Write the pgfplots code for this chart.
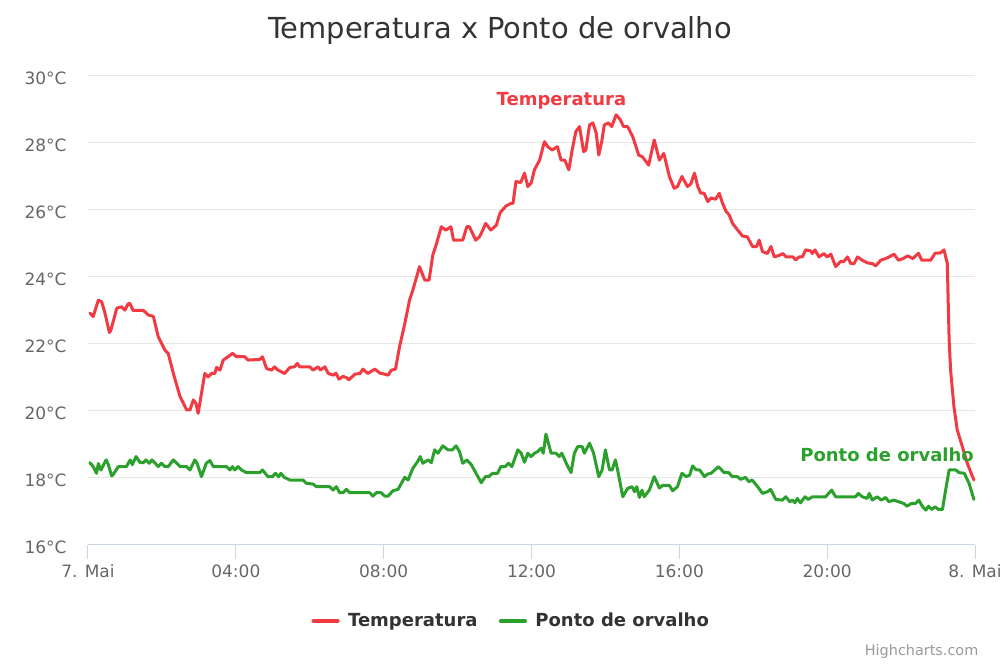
\documentclass[border=0pt]{standalone}
\usepackage{pgfplots}
\pgfplotsset{compat=1.18}
\usepackage{fontspec}
\setmainfont{DejaVu Sans}
\definecolor{tempc}{HTML}{F23A42}
\definecolor{dewc}{HTML}{2CA02C}
\definecolor{gridc}{HTML}{E6E6E6}
\definecolor{axisc}{HTML}{CCD6EB}
\definecolor{labc}{HTML}{666666}
\definecolor{titc}{HTML}{333333}
\definecolor{credc}{HTML}{999999}

\begin{document}
\begin{tikzpicture}
\useasboundingbox (-66pt,-91.5pt) rectangle (684pt,408.75pt);
\begin{axis}[
    at={(0,0)}, anchor=south west,
    scale only axis, width=665.25pt, height=351.75pt,
    xmin=0, xmax=24, ymin=16, ymax=30,
    axis x line*=bottom, axis y line*=left,
    x axis line style={draw=axisc, line width=0.75pt},
    y axis line style={draw=none},
    xtick={0,4,8,12,16,20,24},
    xticklabels={7. Mai,04:00,08:00,12:00,16:00,20:00,8. Mai},
    ytick={16,18,...,30},
    yticklabels={16°C,18°C,20°C,22°C,24°C,26°C,28°C,30°C},
    xtick style={draw=axisc, line width=0.75pt},
    ytick style={draw=none},
    tick align=outside,
    x tick label style={font=\fontsize{12.75pt}{14pt}\selectfont, text=labc, yshift=-1pt},
    y tick label style={font=\fontsize{12.75pt}{14pt}\selectfont, text=labc, anchor=east, xshift=-2pt, yshift=-1.5pt},
    major tick length=10.5pt,
    ymajorgrids, grid style={draw=gridc, line width=0.75pt},
    clip=false,
    legend style={at={(0.4775,-0.162)}, anchor=center, draw=none, fill=none,
        font=\fontsize{13.5pt}{15pt}\selectfont\bfseries, text=titc,
        legend columns=2,
        /tikz/every even column/.append style={column sep=14pt}},
    legend image code/.code={\draw[#1, line width=2.6pt] (0pt,0pt) -- (18.5pt,0pt); \path (23pt,0pt);},
    every axis plot/.append style={line width=2.25pt, line join=round, line cap=round},
]
\addplot[tempc] coordinates {
(0.05,22.92) (0.14,22.82) (0.28,23.31) (0.37,23.26) (0.46,22.92) (0.58,22.34)
(0.62,22.42) (0.78,23.07) (0.91,23.11) (1.00,23.01) (1.09,23.21) (1.14,23.20)
(1.22,23.00) (1.50,23.00) (1.63,22.87) (1.77,22.82) (1.90,22.22) (2.08,21.82)
(2.17,21.72) (2.31,21.12) (2.49,20.43) (2.67,20.03) (2.76,20.03) (2.85,20.33)
(2.92,20.23) (2.98,19.93) (3.16,21.12) (3.25,21.02) (3.34,21.12) (3.43,21.12)
(3.48,21.30) (3.57,21.22) (3.66,21.52) (3.79,21.62) (3.91,21.72) (4.02,21.62)
(4.24,21.62) (4.33,21.52) (4.65,21.54) (4.72,21.62) (4.83,21.27) (4.97,21.22)
(5.05,21.32) (5.14,21.22) (5.32,21.12) (5.46,21.30) (5.59,21.32) (5.66,21.42)
(5.73,21.32) (6.00,21.32) (6.09,21.22) (6.22,21.32) (6.29,21.22) (6.41,21.32)
(6.50,21.12) (6.64,21.07) (6.71,21.13) (6.79,20.95) (6.90,21.03) (6.99,21.00)
(7.06,20.93) (7.22,21.10) (7.36,21.12) (7.44,21.25) (7.57,21.12) (7.76,21.25)
(7.90,21.13) (8.03,21.10) (8.12,21.07) (8.21,21.22) (8.32,21.25) (8.43,21.92)
(8.57,22.60) (8.70,23.31) (8.79,23.61) (8.97,24.31) (9.11,23.91) (9.23,23.91)
(9.33,24.66) (9.42,24.96) (9.56,25.50) (9.68,25.40) (9.82,25.50) (9.89,25.10)
(10.14,25.10) (10.25,25.50) (10.32,25.50) (10.49,25.10) (10.59,25.20) (10.64,25.30)
(10.76,25.60) (10.90,25.40) (11.05,25.55) (11.15,25.92) (11.31,26.12) (11.45,26.20)
(11.50,26.20) (11.58,26.85) (11.71,26.82) (11.81,27.10) (11.90,26.70) (11.99,26.80)
(12.08,27.20) (12.22,27.49) (12.35,28.04) (12.44,27.89) (12.56,27.79) (12.70,27.89)
(12.80,27.49) (12.90,27.49) (13.01,27.20) (13.10,27.79) (13.20,28.34) (13.30,28.49)
(13.41,27.74) (13.47,27.79) (13.57,28.54) (13.66,28.60) (13.75,28.30) (13.82,27.64)
(13.90,28.04) (13.97,28.54) (14.08,28.60) (14.17,28.49) (14.29,28.84) (14.40,28.70)
(14.49,28.49) (14.60,28.49) (14.74,28.19) (14.90,27.64) (15.00,27.59) (15.17,27.34)
(15.32,28.09) (15.46,27.49) (15.58,27.69) (15.73,27.00) (15.86,26.65) (15.95,26.70)
(16.07,27.00) (16.22,26.70) (16.31,26.78) (16.41,27.10) (16.50,26.70) (16.58,26.50)
(16.67,26.50) (16.77,26.25) (16.86,26.36) (16.98,26.32) (17.08,26.50) (17.17,26.20)
(17.26,25.97) (17.35,25.85) (17.44,25.60) (17.58,25.40) (17.71,25.22) (17.84,25.20)
(17.98,24.91) (18.09,24.91) (18.16,25.10) (18.25,24.76) (18.38,24.70) (18.48,24.91)
(18.57,24.60) (18.71,24.65) (18.80,24.70) (18.89,24.60) (19.07,24.60) (19.15,24.51)
(19.24,24.60) (19.33,24.60) (19.42,24.81) (19.55,24.78) (19.60,24.70) (19.67,24.81)
(19.78,24.60) (19.91,24.70) (20.00,24.60) (20.10,24.68) (20.23,24.31) (20.36,24.46)
(20.45,24.46) (20.55,24.60) (20.64,24.40) (20.73,24.40) (20.82,24.60) (20.95,24.50)
(21.09,24.42) (21.23,24.40) (21.31,24.33) (21.45,24.50) (21.58,24.55) (21.68,24.60)
(21.81,24.68) (21.93,24.50) (22.05,24.55) (22.18,24.63) (22.32,24.55) (22.47,24.71)
(22.56,24.50) (22.80,24.50) (22.92,24.71) (23.07,24.72) (23.16,24.81) (23.25,24.41)
(23.30,22.12) (23.34,21.22) (23.43,20.13) (23.52,19.43) (23.66,18.93) (23.79,18.44)
(23.97,17.94)
};
\addlegendentry{Temperatura}
\addplot[dewc] coordinates {
(0.05,18.46) (0.14,18.34) (0.23,18.14) (0.28,18.43) (0.35,18.24) (0.49,18.54)
(0.55,18.40) (0.64,18.06) (0.68,18.10) (0.82,18.34) (1.04,18.34) (1.14,18.54)
(1.20,18.40) (1.30,18.64) (1.41,18.46) (1.50,18.46) (1.57,18.54) (1.66,18.44)
(1.73,18.54) (1.82,18.44) (1.90,18.34) (1.99,18.44) (2.08,18.34) (2.17,18.34)
(2.31,18.54) (2.49,18.34) (2.67,18.34) (2.76,18.24) (2.89,18.54) (2.95,18.44)
(3.07,18.04) (3.20,18.44) (3.30,18.52) (3.39,18.34) (3.75,18.34) (3.84,18.24)
(3.91,18.34) (3.97,18.24) (4.06,18.34) (4.15,18.24) (4.29,18.16) (4.65,18.16)
(4.72,18.24) (4.87,18.04) (4.99,18.04) (5.07,18.14) (5.16,18.04) (5.22,18.14)
(5.31,18.02) (5.46,17.94) (5.82,17.94) (5.91,17.84) (6.09,17.82) (6.18,17.74)
(6.54,17.74) (6.63,17.64) (6.72,17.74) (6.81,17.56) (6.90,17.56) (6.99,17.66)
(7.08,17.56) (7.62,17.56) (7.71,17.46) (7.80,17.56) (7.93,17.56) (8.03,17.46)
(8.12,17.46) (8.25,17.62) (8.39,17.66) (8.48,17.84) (8.57,18.02) (8.66,17.94)
(8.79,18.29) (8.92,18.49) (8.99,18.64) (9.06,18.44) (9.20,18.54) (9.29,18.46)
(9.38,18.84) (9.47,18.74) (9.60,18.96) (9.74,18.84) (9.86,18.84) (9.96,18.96)
(10.05,18.79) (10.14,18.44) (10.25,18.54) (10.37,18.40) (10.50,18.14) (10.64,17.86)
(10.75,18.04) (10.84,18.04) (10.95,18.14) (11.08,18.14) (11.17,18.34) (11.29,18.34)
(11.38,18.44) (11.47,18.34) (11.63,18.84) (11.72,18.74) (11.81,18.47) (11.90,18.74)
(11.99,18.64) (12.08,18.74) (12.17,18.79) (12.26,18.89) (12.32,18.74) (12.39,19.31)
(12.46,19.03) (12.53,18.74) (12.66,18.74) (12.75,18.64) (12.82,18.74) (12.94,18.44)
(13.07,18.16) (13.16,18.74) (13.25,18.94) (13.37,18.94) (13.43,18.74) (13.57,19.04)
(13.68,18.74) (13.82,18.04) (13.91,18.24) (14.00,18.84) (14.11,18.24) (14.18,18.24)
(14.27,18.54) (14.33,18.24) (14.47,17.44) (14.60,17.69) (14.72,17.74) (14.79,17.59)
(14.85,17.74) (14.92,17.42) (14.99,17.64) (15.05,17.44) (15.19,17.64) (15.32,18.04)
(15.46,17.70) (15.55,17.78) (15.73,17.78) (15.82,17.62) (15.95,17.74) (16.07,18.14)
(16.19,18.04) (16.28,18.09) (16.36,18.36) (16.46,18.24) (16.55,18.24) (16.68,18.04)
(16.77,18.12) (16.86,18.14) (17.06,18.34) (17.21,18.16) (17.34,18.16) (17.43,18.04)
(17.57,18.04) (17.66,17.96) (17.79,18.02) (17.88,17.89) (17.97,17.94) (18.12,17.74)
(18.25,17.54) (18.38,17.59) (18.47,17.66) (18.61,17.36) (18.79,17.34) (18.88,17.44)
(18.99,17.29) (19.06,17.34) (19.13,17.26) (19.19,17.39) (19.28,17.26) (19.40,17.44)
(19.49,17.36) (19.60,17.44) (19.96,17.44) (20.12,17.64) (20.23,17.44) (20.77,17.44)
(20.84,17.54) (20.95,17.44) (21.08,17.39) (21.14,17.54) (21.22,17.34) (21.35,17.44)
(21.47,17.34) (21.58,17.42) (21.67,17.29) (21.80,17.34) (21.94,17.29) (22.07,17.24)
(22.16,17.16) (22.28,17.24) (22.39,17.24) (22.48,17.34) (22.57,17.16) (22.67,17.04)
(22.74,17.16) (22.83,17.06) (22.92,17.14) (23.01,17.06) (23.12,17.06) (23.19,17.54)
(23.30,18.24) (23.48,18.24) (23.57,18.16) (23.71,18.14) (23.84,17.84) (23.97,17.36)
};
\addlegendentry{Ponto de orvalho}
\node[text=tempc, font=\fontsize{13.5pt}{15pt}\selectfont\bfseries] at (axis cs:12.81,29.25) {Temperatura};
\node[text=dewc, font=\fontsize{13.5pt}{15pt}\selectfont\bfseries] at (axis cs:21.62,18.69) {Ponto de orvalho};
\node[text=titc, font=\fontsize{21.7pt}{24pt}\selectfont] at (rel axis cs:0.4645,1.098) {Temperatura x Ponto de orvalho};
\node[text=credc, font=\fontsize{10.8pt}{12pt}\selectfont, anchor=east] at (rel axis cs:1.009,-0.228) {Highcharts.com};
\end{axis}
\end{tikzpicture}
\end{document}
